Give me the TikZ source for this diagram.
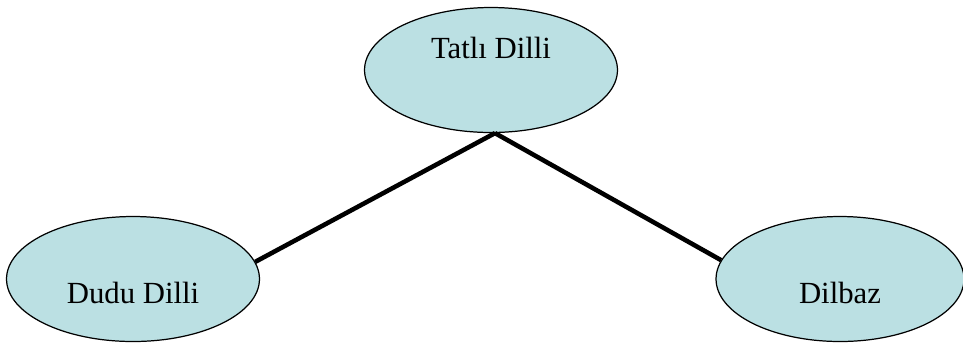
\documentclass[tikz,border=0pt]{standalone}
\usepackage{fontspec}
\setmainfont{Liberation Serif}
\usepackage{tikz}
\usetikzlibrary{shapes.geometric}
\definecolor{OvalBlue}{HTML}{BBE0E3}

\begin{document}
\begin{tikzpicture}[x=0.02cm,y=-0.02cm]
  \tikzstyle{oval}=[ellipse,draw=black,line width=0.7pt,fill=OvalBlue,
    minimum width=5.06cm,minimum height=2.5cm,inner sep=0pt,
    font=\fontsize{17.5}{20}\selectfont]
  \tikzstyle{link}=[line width=2.6pt]
  \useasboundingbox (0,0) rectangle (963,343);
  \node[oval,text height=0.4cm,text depth=0.88cm] (tatli) at (491,70) {Tatlı Dilli};
  \node[oval,text height=1.1cm,text depth=0.14cm] (dudu) at (133,279) {Dudu Dilli};
  \node[oval,minimum width=4.96cm,text height=1.1cm,text depth=0.14cm] (dilbaz) at (840,279) {Dilbaz};
  \coordinate (meet) at ([xshift=0.08cm]tatli.south);
  \draw[link] (meet) -- (dudu.8);
  \draw[link] (meet) -- (dilbaz.171);
\end{tikzpicture}
\end{document}
